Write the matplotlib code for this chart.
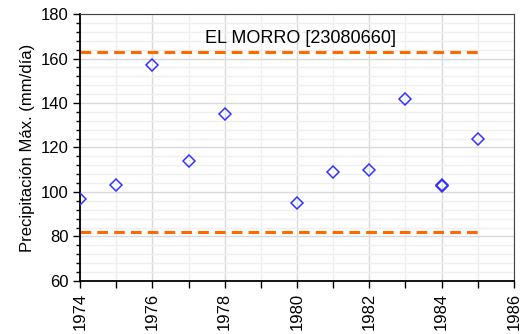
import numpy as np
import matplotlib.pyplot as plt
from matplotlib.ticker import MultipleLocator

plt.rcParams['font.family'] = ['Liberation Sans', 'DejaVu Sans']

years = [1974, 1975, 1976, 1977, 1978, 1980, 1981, 1982, 1983, 1984, 1984, 1985]
pmax = [97, 103, 157, 114, 135, 95, 109, 110, 142, 103, 102.5, 124]
upper_lim = 163
lower_lim = 82
station = "EL MORRO [23080660]"

fig = plt.figure(figsize=(5.27, 3.34), dpi=100)
ax = fig.add_axes([0.152, 0.159, 0.823, 0.799])

ax.plot(years, pmax, linestyle='none', marker='D', markersize=6,
        markerfacecolor='none', markeredgecolor='#3333ff', markeredgewidth=1.1, zorder=3)
ax.plot([years[0], years[-1]], [upper_lim, upper_lim], '--', color='#ff6a00', lw=2.2, dashes=(3.5, 2), zorder=2)
ax.plot([years[0], years[-1]], [lower_lim, lower_lim], '--', color='#ff6a00', lw=2.2, dashes=(3.5, 2), zorder=2)
ax.text(1980.1, 165, station, ha='center', va='bottom', fontsize=13)

ax.set_xlim(1974, 1986)
ax.set_ylim(60, 180)
ax.xaxis.set_major_locator(MultipleLocator(2))
ax.xaxis.set_minor_locator(MultipleLocator(1))
ax.yaxis.set_major_locator(MultipleLocator(20))
ax.yaxis.set_minor_locator(MultipleLocator(4))
ax.grid(which='major', color='#d9d9d9', lw=1)
ax.grid(which='minor', color='#efefef', lw=1)
ax.set_axisbelow(True)
ax.tick_params(axis='x', which='both', labelrotation=90, labelsize=12, length=5, width=1)
ax.tick_params(axis='y', which='major', labelsize=12, length=5, width=1)
ax.tick_params(axis='y', which='minor', length=3, width=1)
ax.set_ylabel('Precipitación Máx. (mm/día)', fontsize=12)
for s in ['left', 'bottom']:
    ax.spines[s].set_linewidth(1.3)
for s in ['top', 'right']:
    ax.spines[s].set_color('#404040')

fig.savefig('out.png', dpi=100)
